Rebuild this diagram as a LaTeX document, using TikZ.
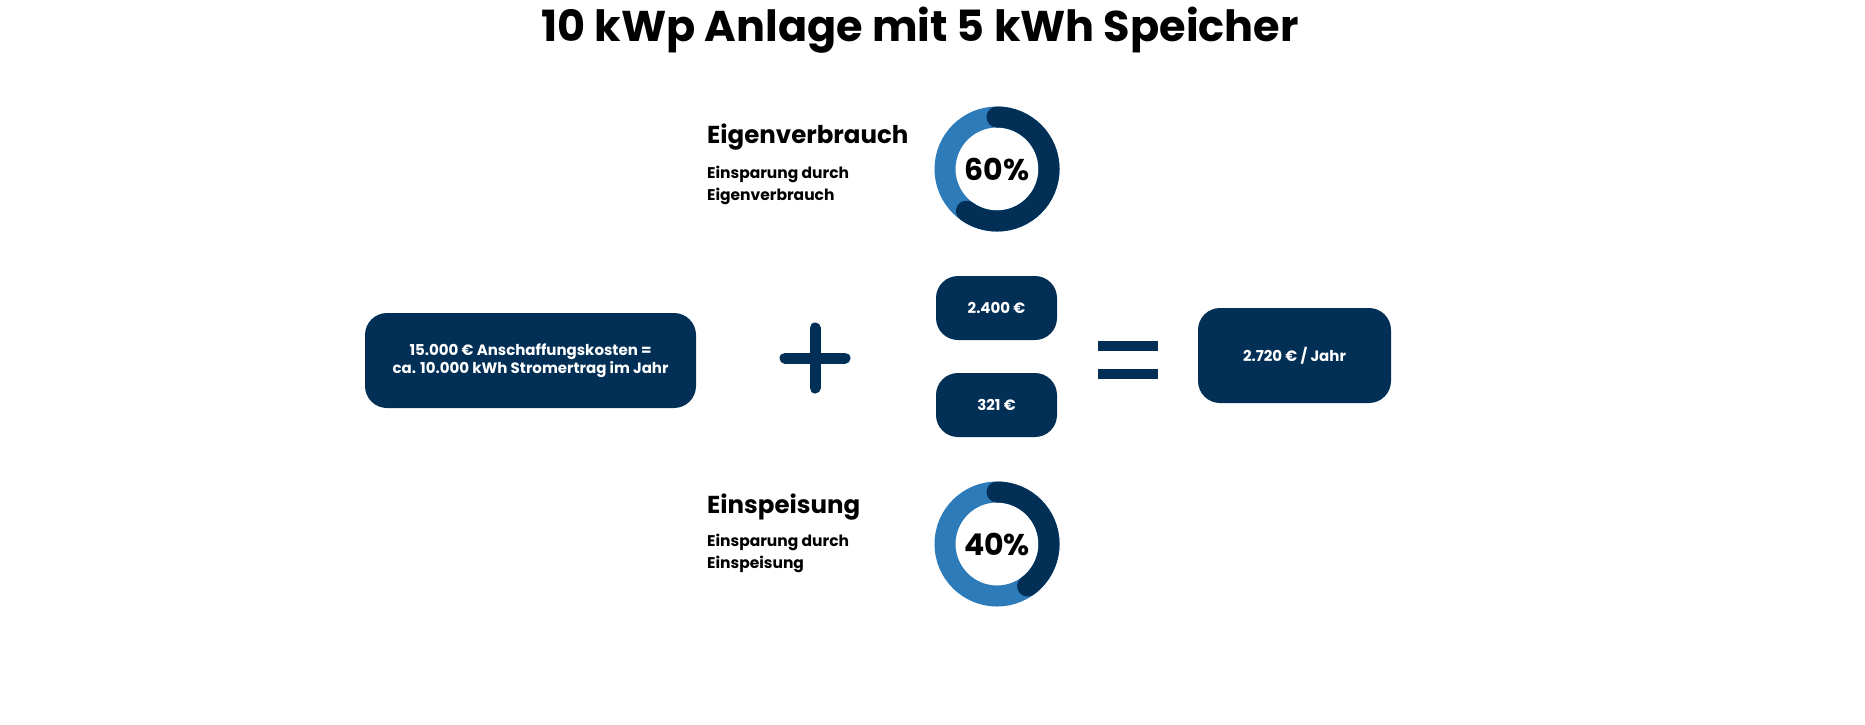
\documentclass[tikz,border=0pt]{standalone}
\usepackage{fontspec}
\usetikzlibrary{calc}
\setmainfont{Poppins}
\definecolor{navy}{HTML}{022F55}
\definecolor{lblue}{HTML}{2E7BBA}
\tikzset{
 box/.style={fill=navy,rounded corners=22pt,text=white,font=\bfseries\fontsize{15}{18}\selectfont,align=center,inner sep=0pt},
 lbl/.style={anchor=base west,inner sep=0pt,font=\bfseries\fontsize{15.5}{19}\selectfont},
 head/.style={anchor=base west,inner sep=0pt,font=\bfseries\fontsize{24.5}{30}\selectfont},
 bar/.style={navy,line width=11pt,line cap=round},
}
\begin{document}
\begin{tikzpicture}[x=1pt,y=-1pt]
\useasboundingbox (0,0) rectangle (1865,724);
\node[font=\bfseries\fontsize{43}{50}\selectfont,anchor=base] (title) at (920,41) {10 kWp Anlage mit 5 kWh Speicher};
% ring 1
\coordinate (r1) at (997,169);
\draw[lblue,line width=21pt] (r1) circle[radius=52];
\draw[navy,line width=21pt,line cap=round] ($(r1)+(0,-52)$) arc[start angle=-90,end angle=126,radius=52];
\node[font=\bfseries\fontsize{30}{34}\selectfont] (p1) at (r1) {60\%};
\node[head] (h1) at (707,143) {Eigenverbrauch};
\node[lbl] (s1) at (707,178) {Einsparung durch};
\node[lbl] (s1b) at (707,200) {Eigenverbrauch};
% ring 2
\coordinate (r2) at (997,544);
\draw[lblue,line width=21pt] (r2) circle[radius=52];
\draw[navy,line width=21pt,line cap=round] ($(r2)+(0,-52)$) arc[start angle=-90,end angle=54,radius=52];
\node[font=\bfseries\fontsize{30}{34}\selectfont] (p2) at (r2) {40\%};
\node[head] (h2) at (707,513) {Einspeisung};
\node[lbl] (s2) at (707,546) {Einsparung durch};
\node[lbl] (s2b) at (707,568) {Einspeisung};
% boxes
\node[box,minimum width=331pt,minimum height=95pt] (cost) at (530.5,360.5) {15.000 € Anschaffungskosten =\\ca. 10.000 kWh Stromertrag im Jahr};
\node[box,minimum width=121pt,minimum height=64pt] (a) at (996.5,308) {2.400 €};
\node[box,minimum width=121pt,minimum height=64pt] (b) at (996.5,405) {321 €};
\node[box,minimum width=193pt,minimum height=95pt] (res) at (1294.5,355.5) {2.720 € / Jahr};
% plus and equals
\draw[bar] (785,358) -- (845,358);
\draw[bar] (815,328) -- (815,388);
\draw[line width=10pt,navy] (1098,346) -- (1158,346);
\draw[line width=10pt,navy] (1098,374) -- (1158,374);
\end{tikzpicture}
\end{document}
